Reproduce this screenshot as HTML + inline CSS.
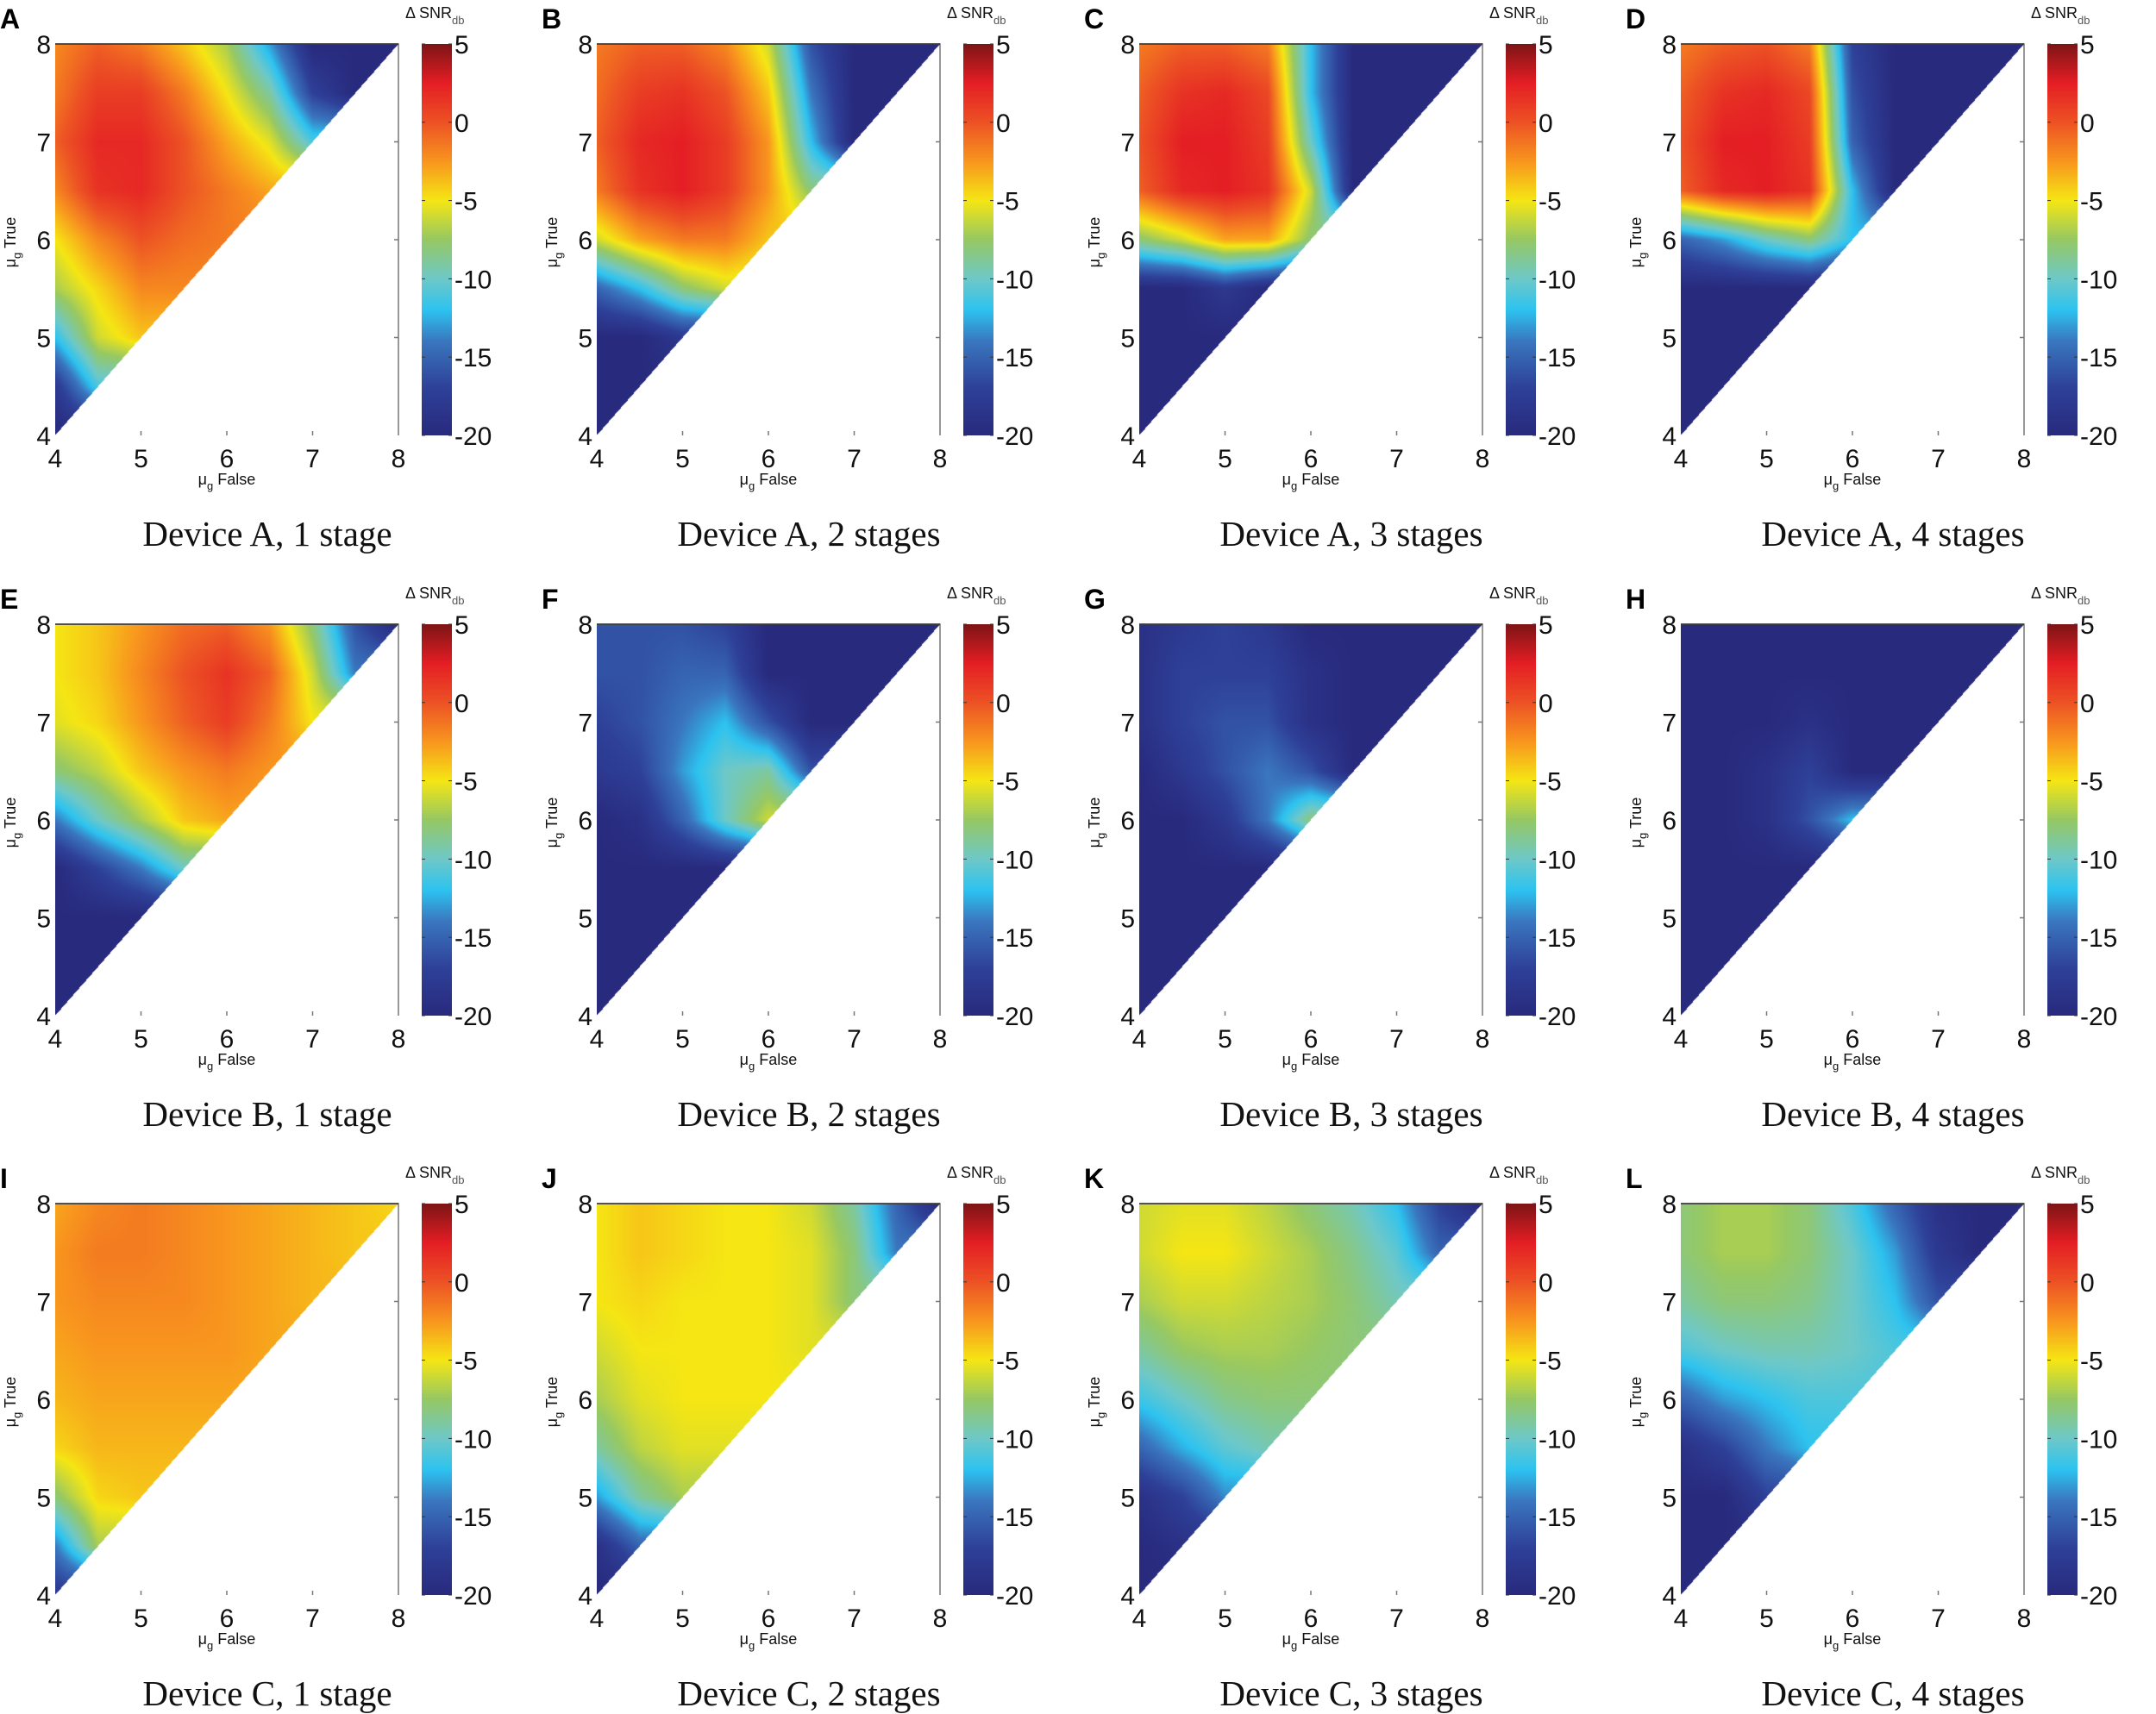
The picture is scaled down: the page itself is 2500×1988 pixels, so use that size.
<!DOCTYPE html>
<html><head><meta charset="utf-8">
<style>
html,body{margin:0;padding:0;background:#fff;}
body{width:2500px;height:1988px;position:relative;overflow:hidden;font-family:"Liberation Sans",sans-serif;}
.panel{position:absolute;left:0;top:0;}
canvas{position:absolute;}
svg{position:absolute;left:0;top:0;overflow:visible;}
</style></head>
<body>
<script>
// grid: x (mu_g False) and y (mu_g True) from 4 to 8 step 0.5; rows from y=8 down to y=4; row for y has entries x=4..y
const gridStart = 4, gridStep = 0.5;
const panelLetters = ["A","B","C","D","E","F","G","H","I","J","K","L"];
const panelTitles = ["Device A, 1 stage","Device A, 2 stages","Device A, 3 stages","Device A, 4 stages",
"Device B, 1 stage","Device B, 2 stages","Device B, 3 stages","Device B, 4 stages",
"Device C, 1 stage","Device C, 2 stages","Device C, 3 stages","Device C, 4 stages"];
const axisTicks = [4,5,6,7,8];
const colorbarTicks = [5,0,-5,-10,-15,-20];
const devA1 = [[-2,-0.5,-1.5,-4,-7,-13,-20,-20,-20],[-1.5,1,1,-1.5,-5,-9,-17,-20],[-0.5,2,2,0,-3,-5.5,-11],[-2,1.5,2,0,-1.5,-3],[-5,-2,0,-1,-1.5],[-7,-4.5,-2,-2],[-12,-6,-4],[-18,-11],[-20]];
const devA2 = [[-1.5,-0.5,-0.5,-2,-6,-16,-20,-20,-20],[-1,1,1.5,0,-4,-14,-20,-20],[-0.5,2,2.5,1,-2.5,-12,-20],[-1.5,1.5,2.5,1,-2.5,-8],[-6,-3,-1.5,-1.5,-4],[-15,-12,-8,-6],[-20,-20,-18],[-20,-20],[-20]];
const devA3 = [[-1.5,-0.5,-0.5,-1.5,-12,-20,-20,-20,-20],[-0.5,1.5,2,0.5,-12,-20,-20,-20],[0,2.5,2.5,1,-10,-20,-20],[-0.5,2,2.5,1.5,-6,-20],[-8,-6,-3,-3,-8],[-20,-20,-18,-20],[-20,-20,-20],[-20,-20],[-20]];
const devA4 = [[-1.5,-0.5,0,-1.5,-17,-20,-20,-20,-20],[-0.5,1.5,2,0.5,-16,-20,-20,-20],[0,2.5,2.5,1,-15,-20,-20],[-0.5,2,2.5,1.5,-12,-20],[-15,-13,-10,-8,-12],[-20,-20,-20,-20],[-20,-20,-20],[-20,-20],[-20]];
const devB1 = [[-5,-4,-2.5,-1,-0.5,-2.5,-8,-16,-20],[-5,-4,-2,0,1.5,-0.5,-6,-14],[-5.5,-4.5,-2.5,-0.5,1,-1.5,-5],[-8,-6.5,-4,-2.5,-1.5,-2.5],[-14,-10,-7,-4,-3],[-20,-17,-14,-10],[-20,-20,-20],[-20,-20],[-20]];
const devB2 = [[-16,-16,-16,-17,-20,-20,-20,-20,-20],[-16,-16,-15,-15,-20,-20,-20,-20],[-17,-16,-14,-12,-16,-20,-20],[-18,-17,-13,-10,-9,-16],[-20,-19,-15,-10,-6],[-20,-20,-20,-20],[-20,-20,-20],[-20,-20],[-20]];
const devB3 = [[-19,-18,-17,-18,-20,-20,-20,-20,-20],[-19,-17,-17,-17,-19,-20,-20,-20],[-19,-17,-16,-16,-19,-20,-20],[-20,-18,-16,-14,-16,-20],[-20,-20,-18,-14,-8],[-20,-20,-20,-20],[-20,-20,-20],[-20,-20],[-20]];
const devB4 = [[-20,-20,-20,-20,-20,-20,-20,-20,-20],[-20,-20,-20,-20,-20,-20,-20,-20],[-20,-20,-20,-19,-20,-20,-20],[-20,-20,-19,-17,-20,-20],[-20,-20,-19,-16,-12],[-20,-20,-20,-20],[-20,-20,-20],[-20,-20],[-20]];
const devC1 = [[-3,-2,-1.5,-2,-2.5,-3,-3.5,-4,-4.5],[-2.5,-1.5,-1.5,-2,-2.5,-3,-3.5,-4],[-2.5,-2,-2,-2,-2.5,-3,-3.5],[-3,-2.5,-2.5,-2.5,-2.5,-3],[-3.5,-3,-3,-3,-3],[-4.5,-3.5,-3.5,-3.5],[-8,-4.5,-4],[-14,-7],[-18]];
const devC2 = [[-5,-4,-4.5,-5,-5,-6,-9,-15,-20],[-5,-4,-4.5,-5,-5,-5.5,-8,-14],[-5,-4.5,-5,-5,-5,-5.5,-8],[-6,-5,-5,-5,-5,-5.5],[-7,-5.5,-5,-5,-5],[-9,-6.5,-5.5,-5.5],[-13,-9,-7],[-19,-15],[-20]];
const devC3 = [[-6,-5.5,-5.5,-6.5,-8,-9.5,-12,-17,-20],[-6,-5,-5,-6,-7,-8.5,-10.5,-15],[-7,-6,-6,-6.5,-7,-8,-9.5],[-9,-7.5,-7,-7,-7.5,-8],[-11.5,-10,-8.5,-8,-8],[-15,-12.5,-10.5,-9.5],[-19,-17,-13.5],[-20,-19],[-20]];
const devC4 = [[-8,-7,-7,-8,-11,-15,-19,-20,-20],[-8,-7,-7,-8,-10,-13,-18,-20],[-9,-8,-8,-8.5,-10,-12,-16],[-11,-10,-9.5,-9.5,-10,-11],[-15,-13,-12,-11,-11],[-19,-17,-14,-12],[-20,-20,-17],[-20,-20],[-20]];
const panelGrids = [devA1,devA2,devA3,devA4,devB1,devB2,devB3,devB4,devC1,devC2,devC3,devC4];

const colLeft = [64, 692, 1321, 1949];
const rowTop = [51, 724, 1396];
const PW = 398, PH = 454;
const VMIN = -20, VMAX = 5;
const cmapStops = [[-20,[40,42,125]],[-17,[46,64,152]],[-14,[58,118,190]],[-12,[45,195,240]],[-10,[110,200,200]],[-7.5,[150,200,100]],[-5,[245,230,20]],[-2.5,[248,150,30]],[0,[236,82,36]],[2.5,[228,30,36]],[5,[125,20,22]]];
function cmap(v){
  v=Math.max(VMIN,Math.min(VMAX,v));
  for(let i=1;i<cmapStops.length;i++){
    if(v<=cmapStops[i][0]){
      const a=cmapStops[i-1],b=cmapStops[i],t=(v-a[0])/(b[0]-a[0]);
      return [0,1,2].map(k=>Math.round(a[1][k]+(b[1][k]-a[1][k])*t));
    }
  }
  return cmapStops[cmapStops.length-1][1];
}
function gv(g,xi,yi){ xi=Math.max(0,Math.min(8,xi)); yi=Math.max(0,Math.min(8,yi)); if(xi>yi) xi=yi; return g[8-yi][xi]; }
function sample(g,x,y){
  const fx=(x-gridStart)/gridStep, fy=(y-gridStart)/gridStep;
  const x0=Math.floor(fx), y0=Math.floor(fy), tx=fx-x0, ty=fy-y0;
  const a=gv(g,x0,y0),b=gv(g,x0+1,y0),c=gv(g,x0,y0+1),d=gv(g,x0+1,y0+1);
  return (a*(1-tx)+b*tx)*(1-ty)+(c*(1-tx)+d*tx)*ty;
}
const NS="http://www.w3.org/2000/svg";
function st(parent,tag,attrs,text){const e=document.createElementNS(NS,tag);for(const k in attrs)e.setAttribute(k,attrs[k]);if(text!==undefined)e.textContent=text;parent.appendChild(e);return e;}

panelGrids.forEach((g,p)=>{
  const L=colLeft[p%4], T=rowTop[Math.floor(p/4)];
  const xS=v=>L+(v-4)/4*PW;       // x axis function
  const yS=v=>T+PH-(v-4)/4*PH;    // y axis function
  const cS=v=>T+(VMAX-v)/(VMAX-VMIN)*PH; // colorbar axis
  const wrap=document.createElement('div');
  wrap.className='panel';
  
  
  document.body.appendChild(wrap);
  const cv=document.createElement('canvas');
  
  
  cv.width=PW;cv.height=PH;cv.style.left=L+'px';cv.style.top=T+'px';
  wrap.appendChild(cv);
  const ctx=cv.getContext('2d');const im=ctx.createImageData(PW,PH);
  for(let py=0;py<PH;py++){for(let px=0;px<PW;px++){
    const X=4+(px+0.5)/PW*4, Y=4+(PH-py-0.5)/PH*4;
    const i=(py*PW+px)*4;
    if(Y>=X){const c=cmap(sample(g,X,Y));im.data[i]=c[0];im.data[i+1]=c[1];im.data[i+2]=c[2];im.data[i+3]=255;}
    else{im.data[i]=255;im.data[i+1]=255;im.data[i+2]=255;im.data[i+3]=255;}
  }}
  ctx.putImageData(im,0,0);
  const cb=document.createElement('canvas');
  
  
  const CBW=35;cb.width=CBW;cb.height=PH;cb.style.left=(L+425)+'px';cb.style.top=T+'px';
  wrap.appendChild(cb);
  const cctx=cb.getContext('2d');
  for(let py=0;py<PH;py++){const v=VMAX-(py+0.5)/PH*(VMAX-VMIN);const c=cmap(v);cctx.fillStyle='rgb('+c+')';cctx.fillRect(0,py,CBW,1);}
  const svg=document.createElementNS(NS,'svg');
  svg.setAttribute('width',2500);svg.setAttribute('height',1988);
  
  
  wrap.appendChild(svg);
  const fr=st(svg,'path',{d:`M${L} ${T}H${L+PW}V${T+PH}`,fill:'none',stroke:'#777','stroke-width':1.5});
  
  
  st(svg,'line',{x1:L,y1:T,x2:L+PW,y2:T,stroke:'#333','stroke-width':1.5});
  axisTicks.forEach(t=>{
    const xl=st(svg,'text',{x:xS(t),y:T+PH+37,'font-size':30,'text-anchor':'middle',fill:'#111'},String(t));
    
    
    const yl=st(svg,'text',{x:L-5,y:yS(t)+11,'font-size':30,'text-anchor':'end',fill:'#111'},String(t));
    
    
    if(t>4&&t<8){
      st(svg,'line',{x1:xS(t),y1:T+PH,x2:xS(t),y2:T+PH-5,stroke:'#777','stroke-width':1.5});
      st(svg,'line',{x1:L+PW,y1:yS(t),x2:L+PW-5,y2:yS(t),stroke:'#777','stroke-width':1.5});
    }
  });
  colorbarTicks.forEach(t=>{
    const cl=st(svg,'text',{x:L+425+CBW+3,y:cS(t)+11,'font-size':30,fill:'#111'},String(t));
    
    
    st(svg,'line',{x1:L+425,y1:cS(t),x2:L+429,y2:cS(t),stroke:'#333','stroke-width':1});
    st(svg,'line',{x1:L+425+CBW,y1:cS(t),x2:L+421+CBW,y2:cS(t),stroke:'#333','stroke-width':1});
  });
  const xt=st(svg,'text',{x:L+199,y:T+PH+57,'font-size':18,'text-anchor':'middle',fill:'#111'});
  
  
  xt.innerHTML='μ<tspan dy="6" font-size="13">g</tspan><tspan dy="-6"> False</tspan>';
  const yt=st(svg,'text',{x:0,y:0,'font-size':18,'text-anchor':'middle',fill:'#111',transform:`translate(${L-46},${T+230}) rotate(-90)`});
  
  
  yt.innerHTML='μ<tspan dy="6" font-size="13">g</tspan><tspan dy="-6"> True</tspan>';
  const ct=st(svg,'text',{x:L+406,y:T-30,'font-size':18,fill:'#111'});
  
  
  ct.innerHTML='Δ SNR<tspan dy="7" font-size="13" fill="#555">db</tspan>';
  const lt=st(svg,'text',{x:L-64,y:T-18,'font-size':32,'font-weight':'bold',fill:'#000'},panelLetters[p]);
  
  
  const tt=st(svg,'text',{x:L+246,y:T+582,'font-size':41,'text-anchor':'middle',fill:'#111','font-family':'"Liberation Serif",serif'},panelTitles[p]);
  
  
});
</script>
</body></html>
